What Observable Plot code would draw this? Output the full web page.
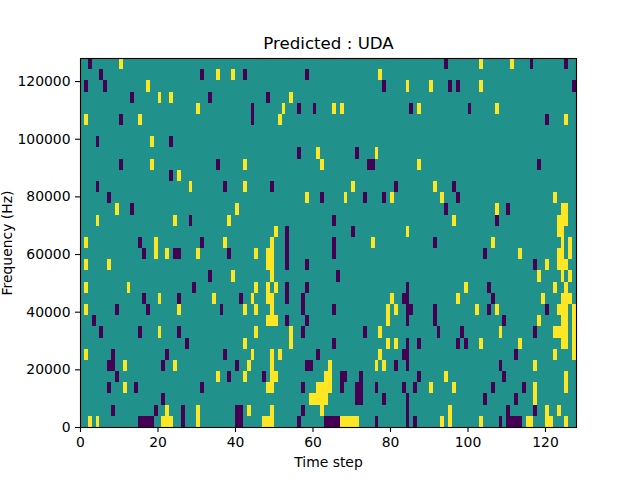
<!DOCTYPE html>
<html>
<head>
<meta charset="utf-8">
<script src="https://cdn.jsdelivr.net/npm/d3@7"></script>
<script src="https://cdn.jsdelivr.net/npm/@observablehq/plot@0.6"></script>
<style>
  html, body { margin: 0; padding: 0; background: #fff; }
</style>
</head>
<body>
<div id="chart"></div>
<script>
const nSteps = 128;
const maxFreq = 128000;
const xTicks = [0, 20, 40, 60, 80, 100, 120];
const yTicks = [0, 20000, 40000, 60000, 80000, 100000, 120000];

// columns per row, first row is the top of the picture
const purpleCols = [
  [2,94,116,125],
  [5,31,42,58],
  [1,6,78,95,97,127],
  [13,33,48],
  [44,56,60,85,100],
  [10,44,120],
  [],
  [4,23],
  [56,71],
  [10,35,74,75,118],
  [23],
  [4,37,49,81,96],
  [7,62,73,78,97],
  [13,94,110],
  [28,65,107],
  [53,70],
  [15,31,53,65,91],
  [16,24,25,38,53,65,104],
  [53,58,117],
  [33,66],
  [29,53,58,84,105],
  [16,25,41,53,57,83,84,106],
  [9,17,36,57,65,84,85,91,105,120],
  [3,53,58,84,91,109],
  [5,15,25,57,73,92,98,117],
  [27,65,84,87,97,99],
  [8,22,37,61,83,84,112],
  [7,8,21,40,58,59,81,84,108],
  [9,38,47,67,68,72,87,109],
  [7,14,31,57,67,71,72,76,83,86,106,114],
  [21,71,72,78,84,104,112],
  [8,19,26,40,41,57,84,110,117],
  [15,16,17,18,26,40,41,56,63,64,65,66,76,84,86,108,110,111,112,113]
];
const yellowCols = [
  [10,103,111],
  [35,39,77],
  [17,84,90,103],
  [20,23,54],
  [30,52,65,67,87,107],
  [1,15,51,125],
  [],
  [18],
  [61,76],
  [18,42,62,87],
  [25],
  [28,42,70,91],
  [58,68,80,93,122],
  [9,40,107,124,125],
  [4,24,38,96,123,124,125],
  [50,84,123,124],
  [1,19,37,49,75,106,124,126],
  [19,22,30,45,48,49,113,123,124,126],
  [1,7,48,49,120,123,124,125],
  [39,49,118,124,126],
  [1,12,45,48,50,99,122,125],
  [20,34,44,48,49,80,97,119,124,125,126],
  [1,25,42,45,49,79,81,102,107,123,124,125,127],
  [48,49,50,79,118,124,125,127],
  [20,45,54,77,108,122,123,124,125,127],
  [42,54,79,81,103,113,124,125,127],
  [1,44,49,51,77,122,127],
  [11,24,43,49,64,76,78,117],
  [35,42,49,50,63,64,94,125],
  [11,48,49,61,62,63,64,90,96,117,125],
  [59,60,61,62,63,117],
  [22,30,43,49,62,95,120,123],
  [2,4,21,22,23,30,47,48,49,67,68,69,70,71,93,95,103,115,116,120,121,125]
];

const nRows = purpleCols.length;
const rowHz = maxFreq / nRows;

const cells = [];
purpleCols.forEach((purple, r) => {
  for (let col = 0; col < nSteps; col++) {
    let v = 0;
    if (purple.includes(col)) v = -1;
    if (yellowCols[r].includes(col)) v = 1;
    cells.push({col, row: nRows - 1 - r, v});
  }
});

const chart = Plot.plot({
  width: 640,
  height: 480,
  marginLeft: 80,
  marginRight: 64,
  marginTop: 58,
  marginBottom: 53,
  style: {background: "#fff", fontFamily: "'DejaVu Sans', sans-serif", fontSize: "13.9px", color: "#000"},
  x: {domain: [0, nSteps], label: null},
  y: {domain: [0, maxFreq], label: null},
  color: {type: "ordinal", domain: [-1, 0, 1], range: ["#440154", "#21918c", "#fde725"]},
  marks: [
    Plot.rect(cells, {
      x1: "col",
      x2: d => d.col + 1,
      y1: d => d.row * rowHz,
      y2: d => (d.row + 1) * rowHz,
      fill: "v",
      shapeRendering: "crispEdges"
    }),
    Plot.frame({stroke: "#000", strokeWidth: 1.1}),
    Plot.axisX({ticks: xTicks, tickFormat: d => String(d), tickSize: 5, tickPadding: 5, label: "Time step", labelAnchor: "center", labelArrow: "none", labelOffset: 39, strokeWidth: 1.1, stroke: "#000", fontSize: 13.9}),
    Plot.axisY({ticks: yTicks, tickFormat: d => String(d), tickSize: 5, tickPadding: 5, label: "Frequency (Hz)", labelAnchor: "center", labelArrow: "none", labelOffset: 78, strokeWidth: 1.1, stroke: "#000", fontSize: 13.9}),
    Plot.text(["Predicted : UDA"], {frameAnchor: "top", dy: -21, fontSize: 16.67, fill: "#000"})
  ]
});

document.getElementById("chart").append(chart);
</script>
</body>
</html>
